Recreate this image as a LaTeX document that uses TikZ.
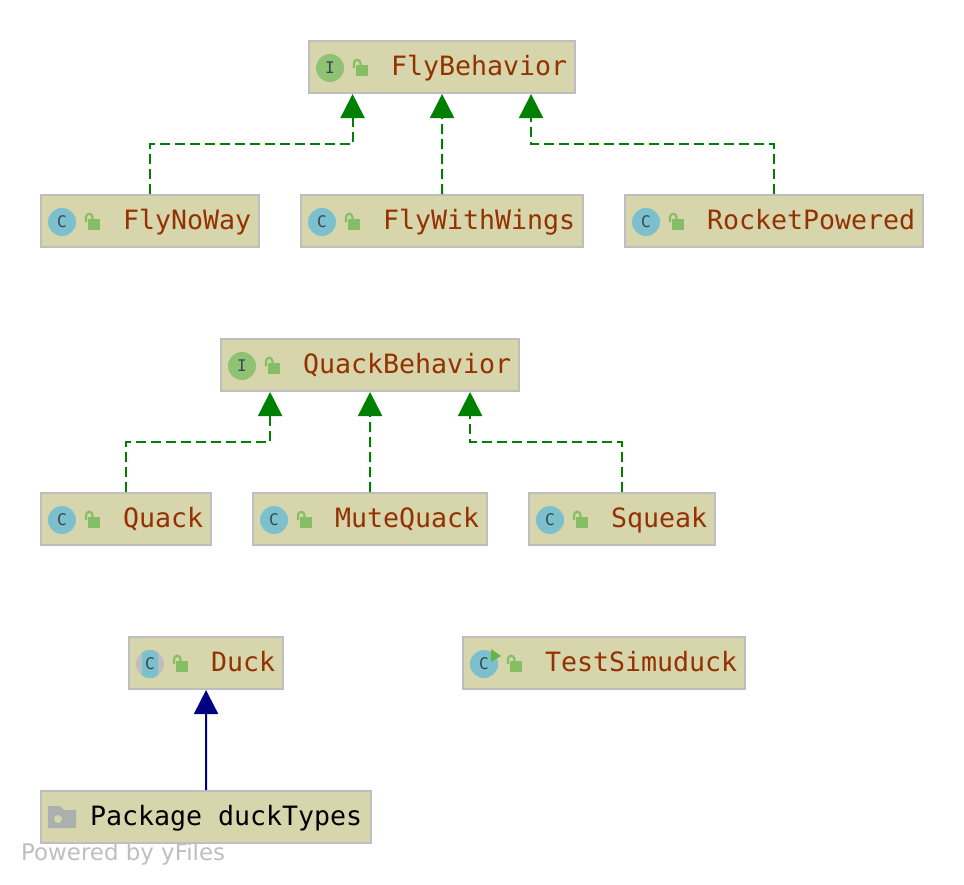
\documentclass[tikz,border=0pt]{standalone}
\usepackage{fontspec}
\setmonofont{DejaVu Sans Mono}
\setsansfont{DejaVu Sans}
\usepackage{tikz}
\usetikzlibrary{arrows.meta,calc,positioning}
\definecolor{boxfill}{HTML}{D7D5AB}
\definecolor{boxline}{HTML}{BEBEBE}
\definecolor{nametext}{HTML}{933100}
\definecolor{classblue}{HTML}{7BC0CC}
\definecolor{ifacegreen}{HTML}{8FC272}
\definecolor{lockgreen}{HTML}{86BE65}
\definecolor{rungreen}{HTML}{62B543}
\definecolor{lettergray}{HTML}{37474F}
\definecolor{foldergray}{HTML}{A9B0AE}
\definecolor{implgreen}{HTML}{008000}
\definecolor{extblue}{HTML}{000080}
\tikzset{
    boxstyle/.style={draw=boxline, fill=boxfill, line width=2pt, anchor=north west,
        inner xsep=0pt, inner ysep=11pt, text height=23pt, text depth=7pt,
        font=\ttfamily\fontsize{26.6}{30}\selectfont},
    classbox/.style={boxstyle, text=nametext},
    implarrow/.style={draw=implgreen, line width=2pt, dash pattern=on 10pt off 5pt,
        -{Triangle[length=24pt,width=24pt,fill=implgreen]}},
    extarrow/.style={draw=extblue, line width=2pt,
        -{Triangle[length=24pt,width=24pt,fill=extblue]}},
    iconletter/.style={text=lettergray, inner sep=0pt, font=\ttfamily\fontsize{16}{16}\selectfont},
    lockicon/.pic={
        \fill[lockgreen] (48,-2) rectangle (60,9);
        \draw[lockgreen, line width=2.2pt] (46,1) -- (46,-4) arc (180:360:3.2) -- (52.4,-2);
    }
}
\begin{document}
\begin{tikzpicture}[x=1pt,y=-1pt]
    \useasboundingbox (0,0) rectangle (964,884);

    \foreach \nm/\x/\y/\txt in {flybehavior/308/40/FlyBehavior, flynoway/40/194/FlyNoWay,
        flywithwings/300/194/FlyWithWings, rocketpowered/624/194/RocketPowered,
        quackbehavior/220/338/QuackBehavior, quack/40/492/Quack, mutequack/252/492/MuteQuack,
        squeak/528/492/Squeak, duck/128/636/Duck, testsimuduck/462/636/TestSimuduck}
    {
        \node[classbox] (\nm) at (\x,\y) {\hspace*{82pt}\txt\hspace*{8pt}};
        \pic at (\nm.west) {lockicon};
    }

    % interfaces
    \foreach \nm in {flybehavior, quackbehavior}
    {
        \node[circle, fill=ifacegreen, minimum size=28pt, inner sep=0pt] (\nm icon) at ($(\nm.west)+(22,1)$) {};
        \node[iconletter] (\nm letter) at (\nm icon) {I};
    }

    % classes
    \foreach \nm in {flynoway, flywithwings, rocketpowered, quack, mutequack, squeak, testsimuduck}
    {
        \node[circle, fill=classblue, minimum size=28pt, inner sep=0pt] (\nm icon) at ($(\nm.west)+(22,1)$) {};
        \node[iconletter] (\nm letter) at (\nm icon) {C};
    }

    % abstract class
    \node[circle, fill=boxline, minimum size=28pt, inner sep=0pt] (duckicon) at ($(duck.west)+(22,1)$) {};
    \begin{scope}
        \clip (duckicon) circle (14);
        \fill[classblue] ($(duckicon)+(-8,-14)$) rectangle ($(duckicon)+(8,14)$);
    \end{scope}
    \node[iconletter] (duckletter) at (duckicon) {C};

    % run marker
    \fill[rungreen] ($(testsimuduckicon)+(7,-15)$) -- ($(testsimuduckicon)+(17,-8)$) -- ($(testsimuduckicon)+(7,-2)$) -- cycle;

    % package
    \node[boxstyle, text=black] (ducktypes) at (40,790) {\hspace*{49pt}Package duckTypes\hspace*{9pt}};
    \fill[foldergray] (48,806) -- (60,806) -- (64,810) -- (76,810) -- (76,828) -- (48,828) -- cycle;
    \fill[boxfill] (58,819) circle (4);

    \node[anchor=north west, inner sep=0pt, text=boxline, font=\sffamily\fontsize{22.9}{26}\selectfont] (poweredby) at (21,843) {Powered by yFiles};

    \draw[implarrow] (flynoway.north) -- ++(0,-50) -| ([xshift=-89.5pt]flybehavior.south);
    \draw[implarrow] (flywithwings.north) -- (flybehavior.south);
    \draw[implarrow] (rocketpowered.north) -- ++(0,-50) -| ([xshift=89pt]flybehavior.south);

    \draw[implarrow] (quack.north) -- ++(0,-50) -| ([xshift=-100pt]quackbehavior.south);
    \draw[implarrow] (mutequack.north) -- (quackbehavior.south);
    \draw[implarrow] (squeak.north) -- ++(0,-50) -| ([xshift=100pt]quackbehavior.south);

    \draw[extarrow] (ducktypes.north) -- (duck.south);
\end{tikzpicture}
\end{document}
